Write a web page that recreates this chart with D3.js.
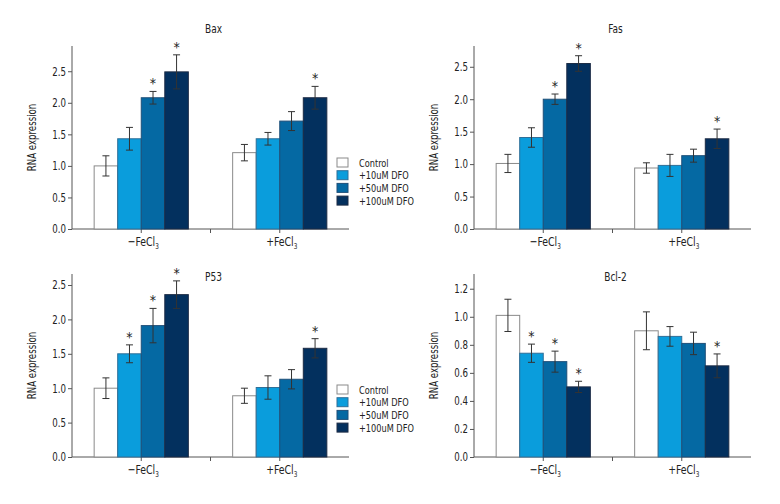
<!DOCTYPE html>
<html>
<head>
<meta charset="utf-8">
<script src="https://cdn.jsdelivr.net/npm/d3@7"></script>
<style>
  body { margin: 0; background: #fff; }
  svg text { font-family: "DejaVu Sans", sans-serif; font-stretch: condensed; fill: #222; }
</style>
</head>
<body>
<div id="chart"></div>
<script>
// data
const groups = ["minus", "plus"];
const series = ["Control", "+10uM DFO", "+50uM DFO", "+100uM DFO"];
const colors = ["#ffffff", "#0a9ddc", "#0569a3", "#03305e"];
const strokes = ["#8a8a8a", "#2f6f98", "#1f4f78", "#1c2b45"];

const bax_values = [[1.00, 1.43, 2.08, 2.49], [1.21, 1.43, 1.71, 2.08]];
const bax_err = [[0.16, 0.18, 0.10, 0.27], [0.13, 0.10, 0.15, 0.18]];
const bax_star = [[0, 0, 1, 1], [0, 0, 0, 1]];

const fas_values = [[1.01, 1.41, 2.00, 2.55], [0.94, 0.98, 1.13, 1.39]];
const fas_err = [[0.14, 0.15, 0.08, 0.12], [0.08, 0.17, 0.10, 0.15]];
const fas_star = [[0, 0, 1, 1], [0, 0, 0, 1]];

const p53_values = [[1.00, 1.50, 1.91, 2.36], [0.89, 1.01, 1.13, 1.58]];
const p53_err = [[0.15, 0.13, 0.25, 0.20], [0.11, 0.17, 0.14, 0.14]];
const p53_star = [[0, 1, 1, 1], [0, 0, 0, 1]];

const bcl2_values = [[1.01, 0.74, 0.68, 0.50], [0.90, 0.86, 0.81, 0.65]];
const bcl2_err = [[0.115, 0.065, 0.075, 0.04], [0.135, 0.07, 0.08, 0.085]];
const bcl2_star = [[0, 1, 1, 1], [0, 0, 0, 1]];

const bax_ticks = [0, 0.5, 1.0, 1.5, 2.0, 2.5];
const bcl2_ticks = [0, 0.2, 0.4, 0.6, 0.8, 1.0, 1.2];

const panels = [
    { title: "Bax", values: bax_values, err: bax_err, star: bax_star, ymax: 2.9, ticks: bax_ticks, left: 72, top: 46, titleY: 29 },
    { title: "Fas", values: fas_values, err: fas_err, star: fas_star, ymax: 2.82, ticks: bax_ticks, left: 474, top: 46, titleY: 29 },
    { title: "P53", values: p53_values, err: p53_err, star: p53_star, ymax: 2.66, ticks: bax_ticks, left: 72, top: 274, titleY: 277 },
    { title: "Bcl-2", values: bcl2_values, err: bcl2_err, star: bcl2_star, ymax: 1.305, ticks: bcl2_ticks, left: 474, top: 274, titleY: 277 }
];

const width = 780, height = 504;
const pw = 277, ph = 183;
const squeeze = 0.8;   // the original font is a condensed one

const svg = d3.select("#chart").append("svg")
    .attr("width", width)
    .attr("height", height);

// text squeezed horizontally, placed at (x, y)
function ntext(parent, x, y, size, anchor, sq) {
    return parent.append("g")
        .attr("transform", `translate(${x},${y}) scale(${sq || squeeze},1)`)
        .append("text")
        .attr("text-anchor", anchor || "start")
        .style("font-size", size + "px");
}

panels.forEach(p => {
    const g = svg.append("g").attr("transform", `translate(${p.left},${p.top})`);

    const x0 = d3.scaleBand().domain(groups).range([0, pw]).padding(0);
    const inner = x0.bandwidth() * 0.68;
    const x1 = d3.scaleBand().domain(series).range([0, inner]).padding(0);
    const y = d3.scaleLinear().domain([0, p.ymax]).range([ph, 0]);

    // y axis
    const ya = g.append("g")
        .call(d3.axisLeft(y).tickValues(p.ticks).tickFormat(d3.format(".1f")).tickSize(4).tickPadding(2));
    ya.select(".domain").attr("stroke", "#555").attr("d", `M0,${ph}V0`);
    ya.selectAll(".tick line").attr("stroke", "#555");
    ya.selectAll("text")
        .attr("x", -6 / squeeze)
        .attr("transform", `scale(${squeeze},1)`)
        .style("font-size", "12px")
        .style("font-family", null)
        .attr("fill", "#222");

    // x axis
    const xa = g.append("g")
        .attr("transform", `translate(0,${ph})`)
        .call(d3.axisBottom(x0).tickSize(4).tickFormat(""));
    xa.select(".domain").attr("stroke", "#555").attr("d", `M0,0H${pw}`);
    xa.selectAll(".tick line").attr("stroke", "#555");
    xa.append("line")
        .attr("x1", x0("plus")).attr("x2", x0("plus"))
        .attr("y1", 0).attr("y2", 4)
        .attr("stroke", "#555");

    groups.forEach(grp => {
        const t = ntext(xa, x0(grp) + x0.bandwidth() / 2 + 2, 17, 13, "middle");
        t.append("tspan").text(grp === "minus" ? "\u2212FeCl" : "+FeCl");
        t.append("tspan").attr("dy", 3).style("font-size", "8px").text("3");
    });

    // bars
    groups.forEach((grp, gi) => {
        const gx = x0(grp) + (x0.bandwidth() - inner) / 2;
        const bars = g.append("g").attr("transform", `translate(${gx},0)`);
        series.forEach((s, si) => {
            const v = p.values[gi][si];
            const e = p.err[gi][si];
            const cx = x1(s) + x1.bandwidth() / 2;
            bars.append("rect")
                .attr("x", x1(s))
                .attr("y", y(v))
                .attr("width", x1.bandwidth())
                .attr("height", ph - y(v))
                .attr("fill", colors[si])
                .attr("stroke", strokes[si])
                .attr("stroke-width", 1);
            bars.append("line")
                .attr("x1", cx).attr("x2", cx)
                .attr("y1", y(v + e)).attr("y2", y(v - e))
                .attr("stroke", "#333");
            [v + e, v - e].forEach(c => {
                bars.append("line")
                    .attr("x1", cx - 3.5).attr("x2", cx + 3.5)
                    .attr("y1", y(c)).attr("y2", y(c))
                    .attr("stroke", "#333");
            });
            if (p.star[gi][si]) {
                bars.append("text")
                    .attr("x", cx)
                    .attr("y", y(v + e) - 3)
                    .attr("text-anchor", "middle")
                    .style("font-size", "14px")
                    .attr("fill", "#222")
                    .text("*");
            }
        });
    });

    // title
    ntext(g, pw / 2 + 3, p.titleY - p.top + 4, 12.5, "middle").text(p.title);

    // y label
    g.append("g")
        .attr("transform", `translate(-36,${ph / 2}) rotate(-90) scale(${squeeze},1)`)
        .append("text")
        .attr("text-anchor", "middle")
        .style("font-size", "12px")
        .text("RNA expression");
});

// legend (drawn once per row of panels)
[0, 227].forEach(dy => {
    const lg = svg.append("g").attr("transform", `translate(337,${158 + dy})`);
    series.forEach((s, i) => {
        lg.append("rect")
            .attr("x", 0).attr("y", i * 12.7)
            .attr("width", 11).attr("height", 9)
            .attr("fill", colors[i])
            .attr("stroke", strokes[i]);
        ntext(lg, 22, i * 12.7 + 8.5, 10.6, "start", 0.86).text(s);
    });
});
</script>
</body>
</html>
